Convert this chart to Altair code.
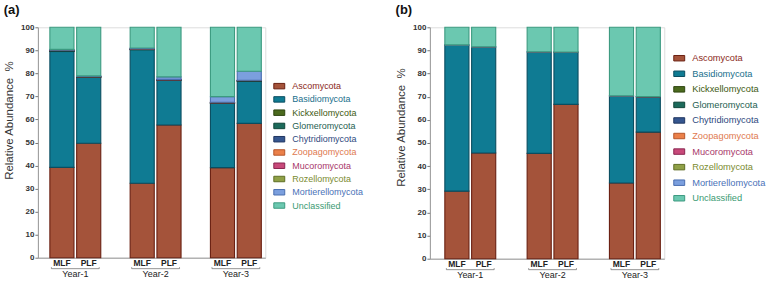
import altair as alt
import pandas as pd

FONT = "Liberation Sans"

phyla = ["Ascomycota", "Basidiomycota", "Kickxellomycota", "Glomeromycota",
         "Chytridiomycota", "Zoopagomycota", "Mucoromycota", "Rozellomycota",
         "Mortierellomycota", "Unclassified"]
years = ["Year-1", "Year-2", "Year-3"]
treatments = ["MLF", "PLF"]

fill_colors = ["#A4533A", "#0F7B93", "#4B6A1E", "#1C6A5B", "#35568F",
               "#EB8049", "#C8497A", "#8FA046", "#7B9FDE", "#6BC8B0"]
stroke_colors = ["#6A2012", "#0A4D60", "#2E4510", "#0F4538", "#1F3560",
                 "#B5552A", "#8A2550", "#5E6E25", "#4A6EB0", "#3C9A80"]
label_colors = ["#8B2A1A", "#1A6F8C", "#3E5A12", "#1E5E50", "#2F4A80",
                "#E07A50", "#A8386A", "#7A8B30", "#4A72B8", "#3A9A72"]

# order of samples: Y1-MLF, Y1-PLF, Y2-MLF, Y2-PLF, Y3-MLF, Y3-PLF
a_ascomycota = [39.2, 49.7, 32.3, 57.6, 39.1, 58.3]
a_basidiomycota = [50.3, 28.6, 58.0, 19.4, 27.9, 18.3]
a_kickxellomycota = [0.1, 0.1, 0.1, 0.1, 0.1, 0.1]
a_glomeromycota = [0.2, 0.1, 0.1, 0.1, 0.1, 0.1]
a_chytridiomycota = [0.2, 0.1, 0.1, 0.1, 0.1, 0.1]
a_zoopagomycota = [0.0, 0.0, 0.0, 0.0, 0.0, 0.0]
a_mucoromycota = [0.1, 0.1, 0.1, 0.1, 0.2, 0.1]
a_rozellomycota = [0.0, 0.0, 0.0, 0.0, 0.0, 0.0]
a_mortierellomycota = [0.3, 0.2, 0.3, 1.1, 2.4, 3.9]
a_unclassified = [9.6, 21.1, 9.0, 21.5, 30.1, 19.1]

b_ascomycota = [29.2, 45.7, 45.5, 66.7, 32.7, 54.7]
b_basidiomycota = [63.1, 45.8, 43.8, 22.6, 37.6, 15.3]
b_kickxellomycota = [0.0, 0.0, 0.0, 0.0, 0.0, 0.0]
b_glomeromycota = [0.0, 0.0, 0.0, 0.0, 0.0, 0.0]
b_chytridiomycota = [0.0, 0.0, 0.0, 0.0, 0.0, 0.0]
b_zoopagomycota = [0.0, 0.0, 0.0, 0.0, 0.0, 0.0]
b_mucoromycota = [0.0, 0.0, 0.0, 0.0, 0.0, 0.0]
b_rozellomycota = [0.0, 0.0, 0.0, 0.0, 0.0, 0.0]
b_mortierellomycota = [0.1, 0.1, 0.1, 0.0, 0.1, 0.1]
b_unclassified = [7.6, 8.4, 10.6, 10.7, 29.6, 29.9]

a_series = [a_ascomycota, a_basidiomycota, a_kickxellomycota, a_glomeromycota,
            a_chytridiomycota, a_zoopagomycota, a_mucoromycota, a_rozellomycota,
            a_mortierellomycota, a_unclassified]
b_series = [b_ascomycota, b_basidiomycota, b_kickxellomycota, b_glomeromycota,
            b_chytridiomycota, b_zoopagomycota, b_mucoromycota, b_rozellomycota,
            b_mortierellomycota, b_unclassified]

samples = [(y, t) for y in years for t in treatments]


def build_df(series):
    rows = []
    for pi, (name, vals) in enumerate(zip(phyla, series)):
        for (y, t), v in zip(samples, vals):
            rows.append({"Year": y, "Treatment": t, "Phylum": name,
                         "idx": pi, "value": v})
    return pd.DataFrame(rows)


def color_expr(colors, default="#333333"):
    expr = ""
    for name, c in zip(phyla, colors):
        expr += f"datum.value == '{name}' ? '{c}' : "
    return expr + f"'{default}'"


def panel(series, label, W, H, pin, pout, align, lx, ly, lfs, lrp, title_y):
    df = build_df(series)
    xscale = alt.Scale(domain=years, paddingInner=pin, paddingOuter=pout, align=align)
    xoff = alt.XOffset("Treatment:N", sort=treatments,
                       scale=alt.Scale(domain=treatments, paddingInner=0.1, paddingOuter=0))
    bars = alt.Chart(df).mark_bar(strokeWidth=1.1).encode(
        x=alt.X("Year:N", sort=years, scale=xscale,
                axis=alt.Axis(title=None, ticks=False, labelAngle=0,
                              labelPadding=11.5, labelFontSize=9, labelColor="#222222",
                              labelFont=FONT, domainColor="#9a9a9a", domainWidth=1)),
        xOffset=xoff,
        y=alt.Y("value:Q", stack="zero",
                scale=alt.Scale(domain=[0, 100], nice=False),
                axis=alt.Axis(title="Relative Abundance\u00a0\u00a0%", values=list(range(0, 101, 10)),
                              grid=False, tickSize=3, tickColor="#777777",
                              domainColor="#9a9a9a", labelFontSize=8, labelFontWeight="bold",
                              labelColor="#333333", labelFont=FONT, labelPadding=1,
                              titleFont=FONT, titleFontSize=11.5, titleFontWeight="normal",
                              titleColor="#333333", titlePadding=6, titleY=title_y)),
        color=alt.Color("Phylum:N", sort=phyla,
                        scale=alt.Scale(domain=phyla, range=fill_colors),
                        legend=alt.Legend(title=None, orient="none", legendX=lx, legendY=ly,
                                          symbolType="M-1,-0.5H1V0.5H-1Z", symbolSize=120,
                                          symbolStrokeWidth=1,
                                          symbolStrokeColor={"expr": color_expr(stroke_colors)},
                                          labelColor={"expr": color_expr(label_colors)},
                                          labelFont=FONT, labelFontSize=lfs, labelOffset=7,
                                          rowPadding=lrp, labelLimit=200)),
        stroke=alt.Stroke("Phylum:N", sort=phyla,
                          scale=alt.Scale(domain=phyla, range=stroke_colors), legend=None),
        order=alt.Order("idx:Q", sort="ascending"),
    )
    lab_df = pd.DataFrame([{"Year": y, "Treatment": t} for (y, t) in samples])
    labels = alt.Chart(lab_df).mark_text(fontSize=8.5, fontWeight="bold", font=FONT,
                                         color="#222222", baseline="middle").encode(
        x=alt.X("Year:N", sort=years, scale=xscale),
        xOffset=xoff,
        y=alt.value(H + 5.5),
        text="Treatment:N",
    )
    br_df = pd.DataFrame({"Year": years})
    bracket = alt.Chart(br_df).mark_rule(color="#666666", strokeWidth=0.7).encode(
        x=alt.X("Year:N", sort=years, scale=xscale, bandPosition=0.03),
        x2=alt.X2("Year:N", bandPosition=0.97),
        y=alt.value(H + 11),
    )
    tick_l = alt.Chart(br_df).mark_rule(color="#666666", strokeWidth=0.7).encode(
        x=alt.X("Year:N", sort=years, scale=xscale, bandPosition=0.03),
        y=alt.value(H + 9.5), y2=alt.value(H + 11),
    )
    tick_r = alt.Chart(br_df).mark_rule(color="#666666", strokeWidth=0.7).encode(
        x=alt.X("Year:N", sort=years, scale=xscale, bandPosition=0.97),
        y=alt.value(H + 9.5), y2=alt.value(H + 11),
    )
    return alt.layer(bars, labels, bracket, tick_l, tick_r).properties(
        width=W, height=H,
        title=alt.Title(label, anchor="start", frame="bounds", fontSize=13,
                        fontWeight="bold", font=FONT, color="#111111", offset=6),
    )


pa = panel(a_series, "(a)", 228, 231, 0.366, 0.0994, 0.75, 236, 53, 9, 2.3, 93)
pb = panel(b_series, "(b)", 235, 232, 0.382, 0.115, 0.79, 244, 25, 9.3, 3.6, 100)

chart = alt.hconcat(pa, pb, spacing=30).resolve_scale(
    color="independent", stroke="independent", x="independent", y="independent"
).configure_view(stroke=None).configure(background="white", padding=3)

chart.save("out.html", embed_options={"renderer": "svg", "actions": False})
